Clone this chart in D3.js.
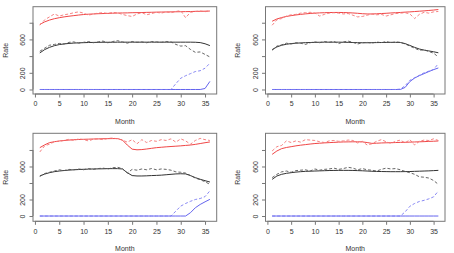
<!DOCTYPE html>
<html>
<head>
<meta charset="utf-8">
<script src="https://cdn.jsdelivr.net/npm/d3@7"></script>
<style>
	body{margin:0;background:#fff;}
	svg{display:block;}
</style>
</head>
<body>
<div id="chart"></div>
<script>
// months 1..36
var months=[1,2,3,4,5,6,7,8,9,10,11,12,13,14,15,16,17,18,19,20,21,22,23,24,25,26,27,28,29,30,31,32,33,34,35,36];
var xTicks=[0,5,10,15,20,25,30,35];
var yTicks=[0,200,400,600,800];
var yTickLabels=['0','200','','600',''];

// panel 1 (top left)
var p1RedFit=[780,810,832,848,860,870,878,885,892,898,902,905, 908,910,912,914,916,917,918,920,921,922,924,925, 927,928,929,930,931,932,933,934,936,937,938,940];
var p1RedObs=[770,835,870,905,880,895,905,920,930,915,890,905, 915,920,910,925,918,900,885,875,905,920,895,910, 925,915,930,920,935,945,860,925,935,940,932,945];
var p1BlackFit=[438,478,505,525,538,546,552,556,559,561,563,564, 565,566,566,566,567,567,567,567,567,567,567,567, 567,567,567,567,567,567,567,567,566,562,548,526];
var p1BlackObs=[458,495,530,540,552,545,565,570,555,565,575,560, 570,580,560,575,585,570,555,575,565,570,560,575, 570,565,575,570,540,520,525,480,445,450,420,390];
var p1BlueFit=[0,0,0,0,0,0,0,0,0,0,0,0, 0,0,0,0,0,0,0,0,0,0,0,0, 0,0,0,0,0,0,0,0,0,0,12,97];
var p1BlueObs=[0,0,0,0,0,0,0,0,0,0,0,0, 0,0,0,0,0,0,0,0,0,0,0,0, 0,0,0,0,70,135,165,190,215,225,255,315];

// panel 2 (top right)
var p2RedFit=[818,845,862,875,885,893,900,906,911,915,918,920, 922,923,923,922,920,917,913,908,905,905,907,910, 913,917,920,923,927,930,934,938,942,947,952,958];
var p2RedObs=[770,835,850,880,895,900,915,920,925,915,880,900, 915,920,915,905,910,890,870,875,890,905,895,900, 880,895,910,915,920,905,850,900,925,915,930,935];
var p2BlackFit=[478,510,530,542,550,555,558,561,563,565,566,567, 567,567,567,566,565,563,561,560,560,561,562,563, 564,565,565,563,550,528,505,485,472,462,452,440];
var p2BlackObs=[470,520,535,555,545,560,555,540,560,570,560,575, 565,575,550,570,580,565,545,560,565,555,570,560, 575,560,570,565,545,520,495,470,475,455,435,390];
var p2BlueFit=[0,0,0,0,0,0,0,0,0,0,0,0, 0,0,0,0,0,0,0,0,0,0,0,0, 0,0,0,0,25,95,137,166,190,215,238,258];
var p2BlueObs=[0,0,0,0,0,0,0,0,0,0,0,0, 0,0,0,0,0,0,0,0,0,0,0,0, 0,0,0,5,45,110,140,170,200,220,240,310];

// panel 3 (bottom left)
var p3RedFit=[828,862,889,900,909,915,920,924,927,929,931,933, 934,936,937,938,938,920,860,810,802,805,812,820, 828,833,838,842,846,850,855,860,868,878,888,897];
var p3RedObs=[776,850,870,900,905,915,930,915,935,925,910,930, 935,925,940,945,935,920,895,925,875,925,890,915, 905,925,915,935,895,935,910,870,915,940,925,915];
var p3BlackFit=[485,508,525,537,545,551,556,560,563,566,568,570, 571,572,574,574,574,570,525,490,485,485,487,490, 492,495,500,505,510,512,510,490,465,445,428,412];
var p3BlackObs=[480,515,530,545,560,550,565,560,570,560,575,565, 575,580,570,585,590,575,520,565,555,570,560,575, 560,570,565,555,535,530,520,490,460,440,415,384];
var p3BlueFit=[0,0,0,0,0,0,0,0,0,0,0,0, 0,0,0,0,0,0,0,0,0,0,0,0, 0,0,0,0,0,0,0,40,100,140,172,202];
var p3BlueObs=[0,0,0,0,0,0,0,0,0,0,0,0, 0,0,0,0,0,0,0,0,0,0,0,0, 0,0,0,0,60,120,152,178,200,212,235,305];

// panel 4 (bottom right)
var p4RedFit=[747,788,816,830,840,850,858,865,872,878,882,886, 889,892,895,897,898,899,899,898,890,880,882,885, 887,888,890,892,893,895,897,899,901,904,906,909];
var p4RedObs=[788,840,855,910,890,910,895,925,920,915,900,890, 910,915,905,910,920,915,885,905,860,875,905,925, 900,880,905,920,885,925,860,905,920,915,935,915];
var p4BlackFit=[444,485,505,517,525,532,537,541,543,545,547,549, 551,552,553,553,553,552,550,548,545,542,540,539, 538,537,537,537,538,539,541,543,545,547,550,553];
var p4BlackObs=[465,505,535,545,530,550,555,560,545,570,555,565, 570,580,565,575,590,580,560,575,560,555,545,565, 580,570,575,560,540,525,505,475,470,460,430,384];
var p4BlueFit=[0,0,0,0,0,0,0,0,0,0,0,0, 0,0,0,0,0,0,0,0,0,0,0,0, 0,0,0,0,0,0,0,0,0,0,0,0];
var p4BlueObs=[0,0,0,0,0,0,0,0,0,0,0,0, 0,0,0,0,0,0,0,0,0,0,0,0, 0,0,0,0,50,118,152,176,190,208,232,303];

var W=454,H=253;
var svg=d3.select('#chart').append('svg').attr('width',W).attr('height',H)
	.attr('font-family','Liberation Sans, Arial, sans-serif');

// plot boxes (pixels) + y domain that fills the box
var panels=[
	{left:33,right:216.7,top:6.7,bottom:94,lo:-54,hi:992,
		series:[p1BlueFit,p1BlueObs,p1BlackFit,p1BlackObs,p1RedFit,p1RedObs]},
	{left:265.5,right:445,top:6.7,bottom:94,lo:-54,hi:992,
		series:[p2BlueFit,p2BlueObs,p2BlackFit,p2BlackObs,p2RedFit,p2RedObs]},
	{left:33,right:216.7,top:133.3,bottom:221.3,lo:-64,hi:1002,
		series:[p3BlueFit,p3BlueObs,p3BlackFit,p3BlackObs,p3RedFit,p3RedObs]},
	{left:265.5,right:445,top:133.3,bottom:221.3,lo:-64,hi:1002,
		series:[p4BlueFit,p4BlueObs,p4BlackFit,p4BlackObs,p4RedFit,p4RedObs]}
];

// colour, dash for each series slot
var styles=[
	{c:'#6464ee',dash:null,w:1},
	{c:'#7a7af2',dash:'3,2',w:0.9},
	{c:'#333',dash:null,w:1},
	{c:'#555',dash:'3,2',w:0.9},
	{c:'#f04646',dash:null,w:1},
	{c:'#f47474',dash:'3,2',w:0.9}
];

panels.forEach(function(p){
	var x=d3.scaleLinear().domain([-0.4,37.4]).range([p.left,p.right]);
	var y=d3.scaleLinear().domain([p.lo,p.hi]).range([p.bottom,p.top]);
	var g=svg.append('g');

	var line=d3.line().x(function(d,i){return x(months[i]);}).y(function(d){return y(d);});
	p.series.forEach(function(s,k){
		g.append('path').datum(s).attr('d',line)
			.attr('fill','none')
			.attr('stroke',styles[k].c)
			.attr('stroke-width',styles[k].w)
			.attr('stroke-dasharray',styles[k].dash);
	});

	// box
	g.append('rect').attr('x',p.left).attr('y',p.top)
		.attr('width',p.right-p.left).attr('height',p.bottom-p.top)
		.attr('fill','none').attr('stroke','#777').attr('stroke-width',1);

	// x axis
	var gx=g.append('g').attr('transform','translate(0,'+p.bottom+')')
		.call(d3.axisBottom(x).tickValues(xTicks).tickSize(3.5).tickPadding(4));
	gx.select('.domain').attr('d','M'+x(0)+',0H'+x(35)).attr('stroke','#777');
	gx.selectAll('line').attr('stroke','#777');
	gx.selectAll('text').attr('font-size',7).attr('fill','#333').attr('font-family',null);

	// y axis, labels turned
	var gy=g.append('g').attr('transform','translate('+p.left+',0)')
		.call(d3.axisLeft(y).tickValues(yTicks).tickSize(3.5)
			.tickFormat(function(d,i){return yTickLabels[i];}));
	gy.select('.domain').attr('d','M0,'+y(0)+'V'+y(800)).attr('stroke','#777');
	gy.selectAll('line').attr('stroke','#777');
	gy.selectAll('text').attr('font-size',7).attr('fill','#333').attr('font-family',null)
		.attr('x',null).attr('dy',null)
		.attr('text-anchor','middle')
		.attr('transform','translate(-8,0) rotate(-90)');

	// axis titles
	g.append('text').attr('x',(p.left+p.right)/2).attr('y',p.bottom+30)
		.attr('text-anchor','middle').attr('font-size',7).attr('fill','#333').text('Month');
	g.append('text').attr('transform','translate('+(p.left-25.5)+','+((p.top+p.bottom)/2)+') rotate(-90)')
		.attr('text-anchor','middle').attr('font-size',7).attr('fill','#333').text('Rate');
});
</script>
</body>
</html>
